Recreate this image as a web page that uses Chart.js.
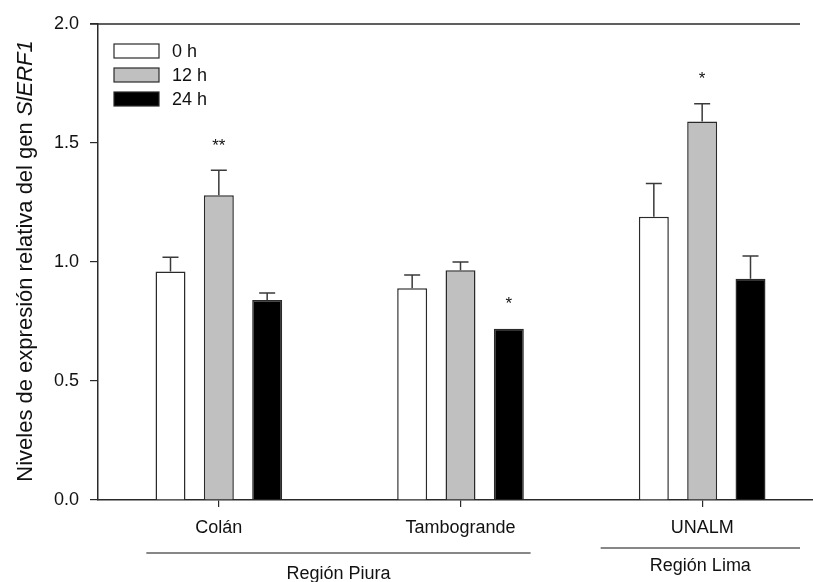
<!DOCTYPE html>
<html>
<head>
<meta charset="utf-8">
<script src="https://cdn.jsdelivr.net/npm/chart.js@4/dist/chart.umd.min.js"></script>
<style>
html,body{margin:0;padding:0;background:#fff;overflow:hidden;}
#wrap{width:813px;height:582px;overflow:hidden;position:relative;}
canvas{display:block;}
</style>
</head>
<body>
<div id="wrap"><canvas id="c" width="830" height="582"></canvas></div>
<script>
// ---- data ----
const categories = ['Colán', 'Tambogrande', 'UNALM'];
const seriesLabels = ['0 h', '12 h', '24 h'];
const values0h  = [0.96, 0.89, 1.19];
const values12h = [1.28, 0.965, 1.59];
const values24h = [0.84, 0.72, 0.93];
const err0h  = [0.06, 0.055, 0.14];
const err12h = [0.105, 0.035, 0.075];
const err24h = [0.03, 0.0, 0.095];
const sig0h  = ['', '', ''];
const sig12h = ['**', '', '*'];
const sig24h = ['', '*', ''];
const yTickValues = [0.0, 0.5, 1.0, 1.5, 2.0];
const regionLabels = ['Región Piura', 'Región Lima'];
const regionFirst = ['Colán', 'UNALM'];
const regionLast  = ['Tambogrande', 'UNALM'];
const yTitlePlain = 'Niveles de expresión relativa del gen ';
const yTitleItalic = 'SlERF1';

const fills = ['#ffffff', '#c0c0c0', '#000000'];
const FONT = '"Liberation Sans", Arial, sans-serif';
const FS = 18;

const datasets = [values0h, values12h, values24h].map((v, i) => ({
  label: seriesLabels[i],
  data: v,
  backgroundColor: fills[i],
  borderColor: '#2a2a2a',
  borderWidth: 1.5,
  categoryPercentage: 0.6,
  barPercentage: 0.62,
  errs: [err0h, err12h, err24h][i],
  sig: [sig0h, sig12h, sig24h][i]
}));

const extras = {
  id: 'extras',
  afterDatasetsDraw(chart) {
    const ctx = chart.ctx;
    const y = chart.scales.y;
    ctx.save();
    chart.data.datasets.forEach((ds, di) => {
      const meta = chart.getDatasetMeta(di);
      meta.data.forEach((bar, i) => {
        const v = ds.data[i], e = ds.errs[i];
        const yTop = y.getPixelForValue(v + e);
        if (e > 0) {
          ctx.strokeStyle = '#3a3a3a';
          ctx.lineWidth = 1.5;
          ctx.beginPath();
          ctx.moveTo(bar.x, bar.y);
          ctx.lineTo(bar.x, yTop);
          ctx.moveTo(bar.x - 8, yTop);
          ctx.lineTo(bar.x + 8, yTop);
          ctx.stroke();
        }
        if (ds.sig[i]) {
          ctx.fillStyle = '#111';
          ctx.font = '17px ' + FONT;
          ctx.textAlign = 'center';
          ctx.textBaseline = 'middle';
          ctx.fillText(ds.sig[i], bar.x, yTop - 24);
        }
      });
    });
    ctx.restore();
  },
  afterDraw(chart) {
    const ctx = chart.ctx;
    const area = chart.chartArea;
    const x = chart.scales.x;
    ctx.save();
    // top frame line
    ctx.strokeStyle = '#2a2a2a';
    ctx.lineWidth = 1.5;
    ctx.beginPath();
    ctx.moveTo(area.left - 8, area.top);
    ctx.lineTo(800, area.top);
    ctx.stroke();
    // legend
    ctx.font = FS + 'px ' + FONT;
    ctx.textBaseline = 'middle';
    ctx.textAlign = 'left';
    chart.data.datasets.forEach((ds, i) => {
      const by = 44 + i * 24;
      ctx.fillStyle = ds.backgroundColor;
      ctx.fillRect(114, by, 45, 14);
      ctx.strokeStyle = '#2a2a2a';
      ctx.lineWidth = 1.2;
      ctx.strokeRect(114, by, 45, 14);
      ctx.fillStyle = '#111';
      ctx.fillText(ds.label, 172, by + 8);
    });
    // y title
    ctx.translate(32, 261);
    ctx.rotate(-Math.PI / 2);
    const fPlain = '22px ' + FONT;
    const fItal = 'italic 22px ' + FONT;
    ctx.font = fPlain;
    const w1 = ctx.measureText(yTitlePlain).width;
    ctx.font = fItal;
    const w2 = ctx.measureText(yTitleItalic).width;
    const start = -(w1 + w2) / 2;
    ctx.fillStyle = '#111';
    ctx.textAlign = 'left';
    ctx.textBaseline = 'alphabetic';
    ctx.font = fPlain;
    ctx.fillText(yTitlePlain, start, 0);
    ctx.font = fItal;
    ctx.fillText(yTitleItalic, start + w1, 0);
    ctx.setTransform(1, 0, 0, 1, 0, 0);
    // region lines and labels
    const step = x.getPixelForValue(1) - x.getPixelForValue(0);
    ctx.strokeStyle = '#111';
    ctx.lineWidth = 1.2;
    ctx.font = FS + 'px ' + FONT;
    ctx.textAlign = 'center';
    ctx.textBaseline = 'middle';
    regionLabels.forEach((lab, r) => {
      const a = x.getPixelForValue(categories.indexOf(regionFirst[r]));
      const b = x.getPixelForValue(categories.indexOf(regionLast[r]));
      const single = a === b;
      const x0 = single ? a - 0.42 * step : a - 0.3 * step;
      const x1 = single ? a + 0.405 * step : b + 0.29 * step;
      const ly = single ? 548 : 553;
      ctx.beginPath();
      ctx.moveTo(x0, ly);
      ctx.lineTo(x1, ly);
      ctx.stroke();
      ctx.fillStyle = '#111';
      ctx.fillText(lab, (x0 + x1) / 2, ly + (single ? 18 : 21));
    });
    ctx.restore();
  }
};

new Chart(document.getElementById('c'), {
  type: 'bar',
  data: { labels: categories, datasets },
  options: {
    responsive: false,
    animation: false,
    layout: { padding: { left: 0, right: 7, top: 24, bottom: 32 } },
    plugins: { legend: { display: false }, tooltip: { enabled: false } },
    scales: {
      x: {
        type: 'category',
        offset: true,
        grid: { display: true, drawOnChartArea: false, offset: false, tickLength: 7, color: '#2a2a2a', lineWidth: 1.2 },
        border: { display: true, color: '#2a2a2a', width: 1.5 },
        ticks: { color: '#111', font: { family: FONT, size: FS }, padding: 10, maxRotation: 0 },
        afterFit(s) { s.height = 50; }
      },
      y: {
        min: 0, max: 2,
        afterBuildTicks(s) { s.ticks = yTickValues.map(v => ({ value: v })); },
        grid: { display: true, drawOnChartArea: false, tickLength: 8, color: '#2a2a2a', lineWidth: 1.2 },
        border: { display: true, color: '#2a2a2a', width: 1.5 },
        ticks: { color: '#111', font: { family: FONT, size: FS }, padding: 11, callback: v => Number(v).toFixed(1) },
        afterFit(s) { s.width = 98; }
      }
    }
  },
  plugins: [extras]
});
</script>
</body>
</html>
